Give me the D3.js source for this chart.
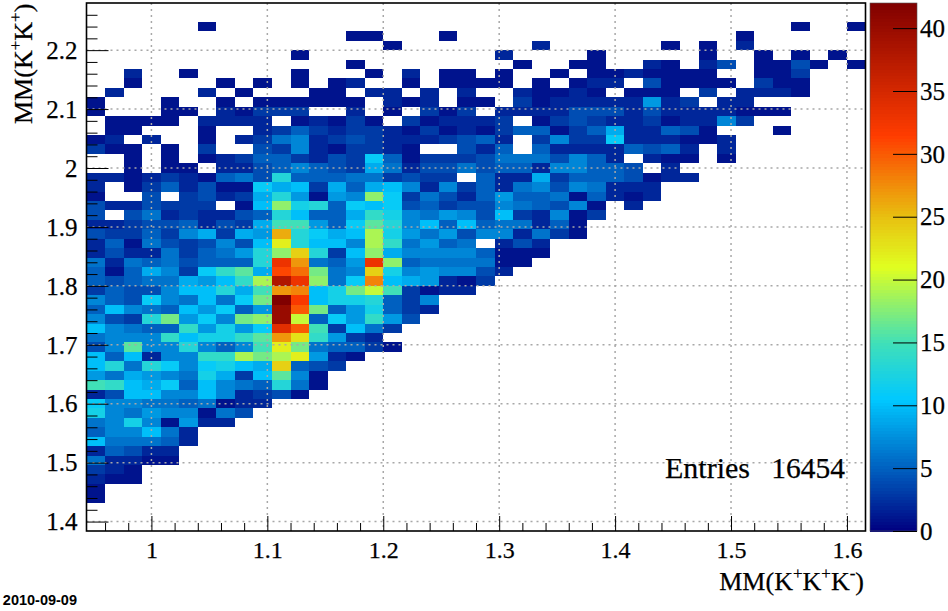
<!DOCTYPE html>
<html>
<head>
<meta charset="utf-8">
<title>MM(K+K+) vs MM(K+K+K-)</title>
<script src="https://cdn.jsdelivr.net/npm/d3@7"></script>
<style>
html, body { margin: 0; padding: 0; background: #fff; }
svg { display: block; }
text { font-family: "Liberation Serif", serif; fill: #000; stroke: #000; stroke-width: 0.25; }
.grid line { stroke: #a8a8a8; stroke-width: 1.5; stroke-dasharray: 2 4; }
.ticks line { stroke: #000; stroke-width: 1; }
.ticks path { display: none; }
</style>
</head>
<body>
<svg id="chart" width="948" height="611"></svg>
<script>
// Bin layout of the histogram
const xFirst = 0.944, yFirst = 1.384, binW = 0.016, nX = 42, nY = 56;
const zMax = 42;

// Tick labels
const xTicks = [1, 1.1, 1.2, 1.3, 1.4, 1.5, 1.6];
const yTicks = [1.4, 1.5, 1.6, 1.7, 1.8, 1.9, 2, 2.1, 2.2];
const zTicks = [0, 5, 10, 15, 20, 25, 30, 35, 40];

// Palette stops
const paletteVals = [0, 5, 10.5, 15, 21, 25, 31.5, 42];
const paletteCols = ['#000080', '#0060c0', '#00c8ff', '#40e0b8', '#e0ff20', '#e8c010', '#ff3c00', '#800000'];

// Counts per bin, top row first, left column first. Rows stop at the last filled bin
const counts = [
    [],
    [],
    [0,0,0,0,0,0,1,0,0,0, 0,0,0,0,0,0,0,0,0,0, 0,0,0,0,0,0,0,0,0,0, 0,0,0,0,0,0,0,0,1,0, 0,1],
    [0,0,0,0,0,0,0,0,0,0, 0,0,0,0,1,1,0,0,0,1, 0,0,0,0,0,0,0,0,0,0, 0,0,0,0,0,1],
    [0,0,0,0,0,0,0,0,0,0, 0,0,0,0,0,0,1,0,0,0, 0,0,0,0,2,0,0,0,0,0, 0,1,0,1,0,2],
    [0,0,0,0,0,0,0,0,0,0, 0,1,0,0,0,0,0,0,0,0, 0,0,2,0,0,0,0,1,0,0, 0,0,0,1,0,0,1,0,1,0, 1],
    [0,0,0,0,0,0,0,0,0,0, 0,0,0,0,1,0,0,0,0,0, 0,0,0,1,0,0,1,1,0,0, 2,1,0,2,4,0,1,1,4,1, 0,1],
    [0,0,2,0,0,1,0,0,0,0, 0,1,0,0,0,1,0,2,0,1, 1,0,1,0,0,1,0,1,1,2, 1,1,1,1,0,0,1,1,3],
    [0,0,1,0,0,0,0,1,0,1, 0,1,0,1,2,0,0,1,0,1, 1,1,1,0,1,0,1,2,2,0, 4,1,1,1,1,0,3,1,1],
    [0,2,0,0,0,0,2,0,1,0, 0,0,1,1,0,2,2,0,2,0, 2,0,0,2,1,1,2,1,0,1, 1,1,0,3,0,2,2,2,1],
    [1,0,0,0,1,0,0,1,0,1, 1,1,1,1,1,0,2,1,2,0, 1,1,0,3,1,2,2,2,2,2, 8,2,3,0,2,2],
    [1,0,0,0,1,1,0,2,1,3, 3,3,0,0,2,0,1,0,3,1, 3,0,2,2,2,2,4,4,4,2, 4,2,2,2,2,1,1,1],
    [0,1,1,1,1,0,2,2,2,2, 0,1,2,1,3,1,0,3,1,2, 2,2,3,0,1,3,4,3,2,2, 3,1,2,2,7,3],
    [0,1,1,0,0,0,1,0,0,2, 3,5,3,2,3,3,2,1,3,1, 2,1,3,5,5,1,3,5,9,2, 2,5,4,1,0,0,0,1],
    [1,2,0,2,0,0,1,0,2,3, 6,7,2,3,4,3,2,2,2,3, 4,5,2,0,3,7,3,3,11,2, 2,2,1,1,2],
    [3,1,1,0,1,0,3,0,0,4, 3,7,2,1,3,3,2,1,0,0, 4,2,5,0,5,2,2,2,2,5, 4,5,2,0,2],
    [0,0,1,0,1,0,1,2,3,5, 5,3,2,4,3,11,5,1,3,3, 3,4,6,6,6,4,7,5,2,0, 2,1,1,0,1],
    [0,0,1,0,1,1,0,2,2,4, 5,7,5,4,3,9,6,2,4,4, 6,4,5,5,2,7,7,5,5,4, 0,2],
    [2,2,1,2,3,2,1,5,6,4, 13,5,5,5,6,6,3,4,3,3, 0,5,2,2,9,3,5,5,5,4, 1,2,2],
    [2,0,1,3,5,2,4,1,1,11, 9,10,3,9,5,9,10,7,2,7, 3,5,2,6,7,4,7,6,2,2, 2],
    [1,0,0,4,0,3,4,2,3,9, 13,8,1,8,7,18,11,3,6,4, 2,5,8,5,5,6,1,5,2,1, 2],
    [4,2,2,4,3,3,3,0,1,10, 18,12,13,5,11,10,11,4,5,3, 4,4,7,6,5,4,7,1,0,2],
    [4,0,4,6,2,3,2,2,4,5, 13,10,5,5,9,14,12,7,6,8, 7,4,10,3,2,7,1,3],
    [2,2,3,4,4,5,2,4,3,9, 15,15,8,5,11,16,13,7,10,5, 10,5,6,6,2,5,1],
    [4,3,3,5,3,7,9,3,9,8, 26,13,11,9,10,19,12,8,6,8, 4,7,7,2,6,3,1],
    [2,5,1,6,4,3,4,7,4,10, 22,13,10,10,7,19,14,6,8,5, 6,0,2,4,2],
    [2,4,2,2,6,3,5,6,8,13, 18,24,13,3,10,18,9,7,7,7, 7,5,1,1,1],
    [6,2,6,5,6,4,5,5,5,13, 33,27,6,5,8,33,18,5,6,6, 6,6,1,1],
    [5,1,5,9,7,3,11,14,16,9, 31,29,17,6,7,24,12,7,8,7, 7,4,2],
    [5,4,5,6,6,9,8,10,14,19, 38,33,18,6,11,28,10,9,8,2, 1,3],
    [3,5,4,4,7,10,10,13,9,15, 27,28,10,12,17,20,15,3,1,2, 2],
    [7,5,4,11,7,6,10,6,11,17, 42,32,10,12,12,13,5,3,7],
    [5,10,7,6,5,10,8,11,5,8, 40,30,17,5,8,12,5,3,2],
    [7,4,3,13,17,8,11,7,17,18, 40,20,5,11,8,14,8,4],
    [10,7,6,5,5,14,8,12,8,11, 34,30,15,3,10,6,3],
    [6,7,7,7,14,10,12,12,14,16, 27,23,14,8,3,2],
    [4,7,16,7,7,13,7,5,7,15, 22,17,6,5,5,3,1],
    [10,5,10,2,7,7,14,14,19,17, 19,22,8,2,1],
    [10,13,6,13,11,7,11,12,10,9, 24,5,4,3],
    [8,6,9,8,7,6,12,9,3,10, 16,7,1],
    [15,14,10,9,11,5,10,7,6,5, 13,6,1],
    [2,4,10,10,7,7,10,7,2,3, 4,1],
    [11,7,7,6,6,5,6,1,2,2],
    [12,7,6,8,7,7,1,6,4],
    [6,7,12,7,1,8,2,2],
    [5,7,7,10,6,2],
    [10,6,6,6,5,2],
    [2,5,4,2,2],
    [6,2,2,1,1],
    [3,2,1],
    [2,1,1],
    [1],
    [1],
    [],
    [],
    []
];

const svg = d3.select('#chart');

const x = d3.scaleLinear().domain([xFirst, xFirst + nX * binW]).range([86.5, 865.5]);
const y = d3.scaleLinear().domain([yFirst, yFirst + nY * binW]).range([531, 3]);
const z = d3.scaleLinear().domain([0, zMax]).range([531, 3]);
const color = d3.scaleLinear().domain(paletteVals).range(paletteCols);

// Cells
const cells = [];
counts.forEach((row, r) => row.forEach((v, c) => {
    if (v > 0) cells.push({ c, r, v });
}));

svg.append('g')
    .selectAll('rect')
    .data(cells)
    .enter().append('rect')
    .attr('shape-rendering', 'crispEdges')
    .attr('x', d => x(xFirst + d.c * binW))
    .attr('y', d => y(yFirst + (nY - d.r) * binW))
    .attr('width', d => x(xFirst + (d.c + 1) * binW) - x(xFirst + d.c * binW))
    .attr('height', d => y(yFirst + (nY - d.r - 1) * binW) - y(yFirst + (nY - d.r) * binW))
    .attr('fill', d => color(d.v));

// Grid
const grid = svg.append('g').attr('class', 'grid');
grid.selectAll('.gx').data(xTicks).enter().append('line')
    .attr('x1', d => x(d)).attr('x2', d => x(d)).attr('y1', 3).attr('y2', 531);
grid.selectAll('.gy').data(yTicks).enter().append('line')
    .attr('y1', d => y(d)).attr('y2', d => y(d)).attr('x1', 86.5).attr('x2', 865.5);

// Axes, ticks point into the frame
const xMinor = d3.range(0, 34).map(i => +(0.96 + i * 0.02).toFixed(2)).filter(d => !xTicks.includes(d));
const yMinor = d3.range(0, 45).map(i => +(1.4 + i * 0.02).toFixed(2)).filter(d => !yTicks.includes(d) && d < 2.28);

function addTicks(axis, tx, ty) {
    return svg.append('g').attr('class', 'ticks')
        .attr('transform', `translate(${tx},${ty})`)
        .call(axis);
}

const xAxis = addTicks(d3.axisBottom(x).tickValues(xTicks).tickSize(-15).tickPadding(10).tickFormat(d3.format('~g')), 0, 531);
addTicks(d3.axisBottom(x).tickValues(xMinor).tickSize(-8).tickFormat(''), 0, 531);
const yAxis = addTicks(d3.axisLeft(y).tickValues(yTicks).tickSize(-22).tickPadding(9).tickFormat(d3.format('~g')), 86.5, 0);
addTicks(d3.axisLeft(y).tickValues(yMinor).tickSize(-11).tickFormat(''), 86.5, 0);

xAxis.selectAll('text').attr('font-size', 24).attr('font-family', 'Liberation Serif');
yAxis.selectAll('text').attr('font-size', 25).attr('font-family', 'Liberation Serif').attr('dy', '0.33em');

// Frame
svg.append('rect')
    .attr('x', 86.5).attr('y', 3).attr('width', 779).attr('height', 528)
    .attr('fill', 'none').attr('stroke', '#000').attr('stroke-width', 1.6);

// Colour bar
const levels = d3.range(0, zMax, 0.25);
svg.append('g')
    .selectAll('rect')
    .data(levels)
    .enter().append('rect')
    .attr('shape-rendering', 'crispEdges')
    .attr('x', 870)
    .attr('width', 47)
    .attr('y', d => z(d + 0.25))
    .attr('height', d => z(d) - z(d + 0.25) + 0.5)
    .attr('fill', d => color(d + 0.125));

svg.append('rect')
    .attr('x', 870).attr('y', 3).attr('width', 47).attr('height', 528)
    .attr('fill', 'none').attr('stroke', '#555').attr('stroke-width', 0.6);

const zAxis = addTicks(d3.axisRight(z).tickValues(zTicks).tickSize(-24).tickPadding(5).tickFormat(d3.format('d')), 917, 0);
zAxis.selectAll('text').attr('x', 3).attr('font-size', 25).attr('font-family', 'Liberation Serif').attr('dy', '0.33em');

// Titles with K+ / K- superscripts
function mathLabel(sel, parts) {
    parts.forEach(p => {
        sel.append('tspan')
            .attr('font-size', p.sup ? 17 : 26)
            .attr('dy', p.sup ? -11 : (p.after ? 11 : 0))
            .text(p.t);
    });
}

const xTitle = svg.append('text').attr('x', 864).attr('y', 590).attr('text-anchor', 'end');
mathLabel(xTitle, [
    { t: 'MM(K' }, { t: '+', sup: true }, { t: 'K', after: true }, { t: '+', sup: true },
    { t: 'K', after: true }, { t: '-', sup: true }, { t: ')', after: true }
]);

const yTitle = svg.append('text').attr('transform', 'translate(32,124) rotate(-90)');
mathLabel(yTitle, [
    { t: 'MM(K' }, { t: '+', sup: true }, { t: 'K', after: true }, { t: '+', sup: true }, { t: ')', after: true }
]);

// Stats and date
svg.append('text').attr('x', 665).attr('y', 478).attr('font-size', 30).text('Entries');
svg.append('text').attr('x', 845).attr('y', 478).attr('font-size', 29.5).attr('text-anchor', 'end').text('16454');

svg.append('text')
    .attr('x', 77).attr('y', 605)
    .attr('text-anchor', 'end')
    .style('font-family', '"Liberation Sans", sans-serif')
    .style('stroke', 'none')
    .attr('font-weight', 'bold')
    .attr('font-size', 14.5)
    .text('2010-09-09');
</script>
</body>
</html>
